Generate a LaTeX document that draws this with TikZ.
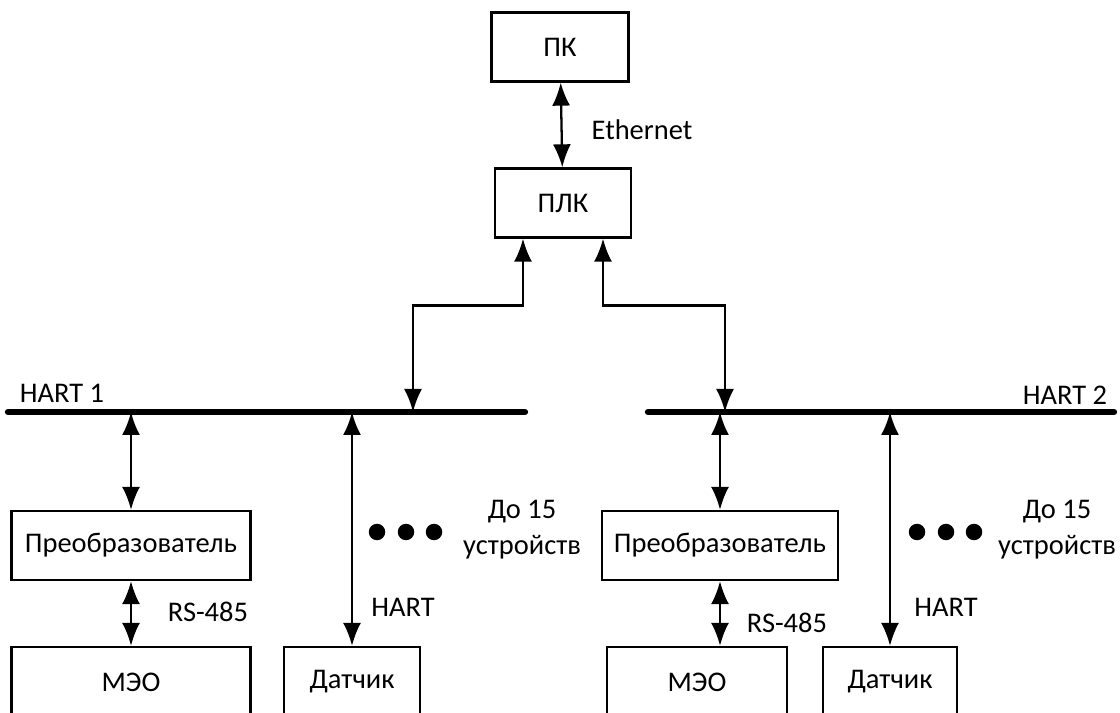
\documentclass[tikz,border=0pt]{standalone}
\usepackage{fontspec}
\setmainfont{Carlito}
\usepackage{tikz}
\usetikzlibrary{arrows.meta}

\tikzset{
  box/.style={draw, line width=1.3pt, minimum height=13.8mm, inner sep=0pt},
  link/.style={line width=1.3pt, {Latex[length=4.6mm,width=3.6mm]}-{Latex[length=4.6mm,width=3.6mm]}},
  bus/.style={line width=3.6pt, line cap=round},
  dot/.style={circle, fill, inner sep=0pt, minimum size=3.3mm},
  lbl/.style={inner sep=0pt}
}

\begin{document}
\begin{tikzpicture}[x=0.2mm, y=-0.2mm, font=\fontsize{16.2}{20.5}\selectfont]
    \useasboundingbox (0,0) rectangle (1120,713);
    \clip (0,0) rectangle (1120,713); % bottom boxes run off the page

    \node[box, minimum width=27.4mm] (pc)  at (560,47)  {ПК};
    \node[box, minimum width=27.2mm] (plc) at (563,203) {ПЛК};
    \draw[link] (pc) -- (plc);
    \node[lbl] (eth) at (642,130) {Ethernet};

    \coordinate (bus1w) at (8,412);
    \coordinate (bus1e) at (525,412);
    \coordinate (bus2w) at (648,412);
    \coordinate (bus2e) at (1114,412);
    \draw[bus] (bus1w) -- (bus1e);% HART 1 line
    \draw[bus] (bus2w) -- (bus2e);% HART 2 line
    \node[lbl] (hart1) at (62,393)  {HART 1};
    \node[lbl] (hart2) at (1065,395) {HART 2};

    \coordinate (tap1) at (413,412);
    \coordinate (tap2) at (725,412);
    \draw[link] ([xshift=-8mm]plc.south) -- ++(0,67) -| (tap1);
    \draw[link] ([xshift=8mm]plc.south)  -- ++(0,67) -| (tap2);

    % left branch
    \node[box, minimum width=47.8mm] (conv1) at (131,545.5) {Преобразователь};
    \node[box, minimum width=47.8mm, minimum height=14mm] (meo1)  at (131,682) {МЭО};
    \node[box, minimum width=27.2mm, minimum height=14mm] (sens1) at (352,682) {Датчик};
    \draw[link] (conv1 |- bus1w) -- (conv1);
    \draw[link] (conv1) -- (meo1);
    \draw[link] (sens1 |- bus1w) -- (sens1);
    \node[lbl] (rs1)  at (208,612) {RS-485};
    \node[lbl] (ht1)  at (403,607) {HART};
    \foreach \x in {377,406,434}
      \node[dot] (d1-\x) at (\x,532) {};
    \node[lbl, align=center] (more1) at (522,530) {До 15\\устройств};

    % right branch
    \node[box, minimum width=47.2mm] (conv2) at (720,545.5) {Преобразователь};
    \node[box, minimum width=36mm, minimum height=14mm]   (meo2)  at (697,682) {МЭО};
    \node[box, minimum width=26.8mm, minimum height=14mm] (sens2) at (890,682) {Датчик};
    \draw[link] (conv2 |- bus2w) -- (conv2);
    \draw[link] (conv2) -- (conv2 |- meo2.north);
    \draw[link] (sens2 |- bus2w) -- (sens2);
    \node[lbl] (rs2)  at (787,623) {RS-485};
    \node[lbl] (ht2)  at (946,607) {HART};
    \foreach \x in {917,946,974}
      \node[dot] (d2-\x) at (\x,532) {};
    \node[lbl, align=center] (more2) at (1057,530) {До 15\\устройств};
\end{tikzpicture}
\end{document}
